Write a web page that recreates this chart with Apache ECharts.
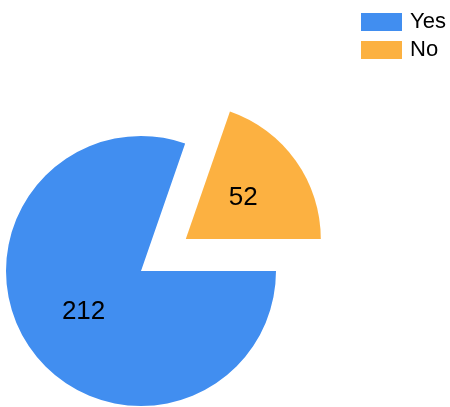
<!DOCTYPE html>
<html>
<head>
<meta charset="utf-8">
<script src="https://cdn.jsdelivr.net/npm/echarts@6/dist/echarts.min.js"></script>
<style>
  html, body { margin: 0; padding: 0; background: #fff; }
  #chart { width: 450px; height: 407px; }
</style>
</head>
<body>
<div id="chart"></div>
<script>
// answers and counts
var categories = ["Yes", "No"];
var counts = [212, 52];
var colors = ["#418ef0", "#fcb141"];
var exploded = [false, true];

var chart = echarts.init(document.getElementById("chart"));

var pieData = categories.map(function (name, i) {
  return {
    name: name,
    value: counts[i],
    selected: exploded[i],
    itemStyle: { color: colors[i] }
  };
});

chart.setOption({
  animation: false,
  legend: {
    orient: "vertical",
    left: 361,
    top: 11,
    padding: 0,
    icon: "rect",
    itemWidth: 41,
    itemHeight: 18,
    itemGap: 6,
    selectedMode: false,
    textStyle: {
      fontFamily: "Liberation Sans, Arial, sans-serif",
      fontSize: 22,
      color: "#000",
      padding: [0, 0, 0, 3]
    },
    data: categories
  },
  series: [
    {
      type: "pie",
      center: [141, 271],
      radius: 135,
      startAngle: 0,
      selectedMode: "single",
      selectedOffset: 55,
      data: pieData,
      itemStyle: { borderWidth: 0 },
      label: {
        show: true,
        position: "inside",
        formatter: "{c}",
        fontFamily: "Liberation Sans, Arial, sans-serif",
        fontSize: 26,
        color: "#000",
        textBorderWidth: 0
      },
      labelLine: { show: false },
      emphasis: { disabled: true }
    }
  ]
});
</script>
</body>
</html>
